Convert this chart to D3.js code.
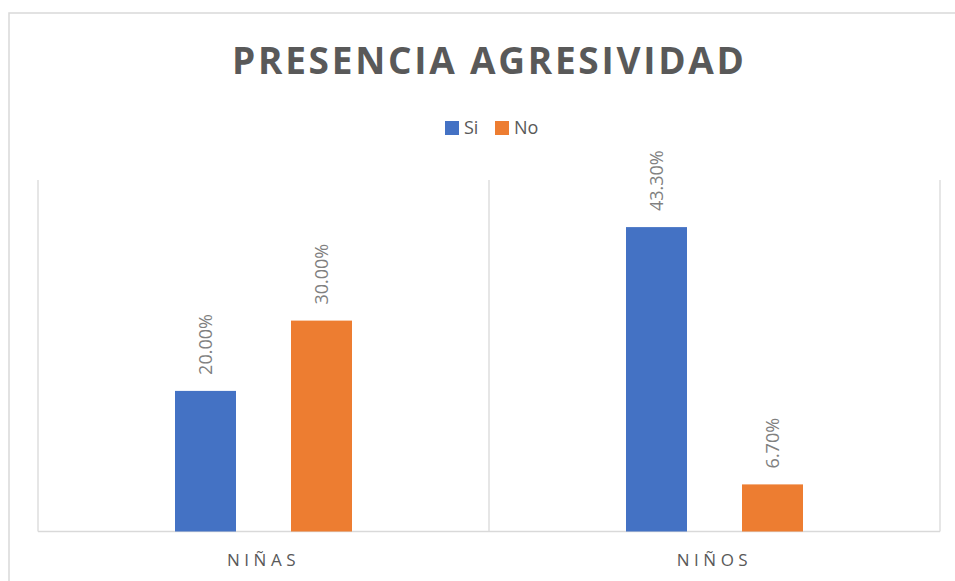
<!DOCTYPE html>
<html>
<head>
  <meta charset="utf-8">
  <title>Presencia agresividad</title>
  <script src="https://cdn.jsdelivr.net/npm/d3@7"></script>
  <style>
    body { margin: 0; background: #fff; }
    text { font-family: "Open Sans", "Noto Sans", sans-serif; }
  </style>
</head>
<body>
  <div id="chart"></div>
  <script>
    // data
    const categories = ["NIÑAS", "NIÑOS"]
    const series = ["Si", "No"]
    const siValues = [0.20, 0.433]
    const noValues = [0.30, 0.067]
    const colors = ["#4472c4", "#ed7d31"]

    const width = 955
    const height = 581
    const plot = { left: 38, right: 940, top: 180, bottom: 531.5 }

    const rows = categories.map((c, i) => ({ cat: c, values: [siValues[i], noValues[i]] }))

    const svg = d3.select("#chart").append("svg")
      .attr("width", width)
      .attr("height", height)

    // outer chart border
    svg.append("rect")
      .attr("x", 9).attr("y", 13)
      .attr("width", 980).attr("height", 620)
      .attr("fill", "#fff")
      .attr("stroke", "#d9d9d9")
      .attr("stroke-width", 1.5)

    svg.append("text")
      .attr("x", 488).attr("y", 74)
      .attr("text-anchor", "middle")
      .attr("font-size", 37)
      .attr("font-weight", "bold")
      .attr("fill", "#595959")
      .attr("textLength", 512)
      .attr("lengthAdjust", "spacing")
      .text("PRESENCIA AGRESIVIDAD")

    // legend
    const legend = svg.append("g").attr("transform", "translate(445,121)")
    series.forEach((s, i) => {
      const g = legend.append("g").attr("transform", `translate(${i * 50},0)`)
      g.append("rect").attr("width", 14).attr("height", 14).attr("fill", colors[i])
      g.append("text").attr("x", 19).attr("y", 13)
        .attr("font-size", 18).attr("fill", "#595959").text(s)
    })

    const x0 = d3.scaleBand().domain(categories).range([plot.left, plot.right])
    const x1 = d3.scaleBand().domain(series)
      .range([137, 137 + 116 + 61])
      .paddingInner(55 / 116)
    const y = d3.scaleLinear().domain([0, 0.5]).range([plot.bottom, plot.top])

    const grid = svg.append("g").attr("stroke", "#d9d9d9").attr("stroke-width", 1.3)
    const dividers = [plot.left, ...categories.map(c => x0(c) + x0.bandwidth())]
    grid.selectAll("line.v").data(dividers).enter().append("line")
      .attr("x1", d => d).attr("x2", d => d)
      .attr("y1", plot.top).attr("y2", plot.bottom)
    grid.append("line")
      .attr("x1", plot.left).attr("x2", plot.right)
      .attr("y1", plot.bottom).attr("y2", plot.bottom)

    const groups = svg.selectAll("g.cat").data(rows).enter().append("g")
      .attr("class", "cat")
      .attr("transform", d => `translate(${x0(d.cat)},0)`)

    groups.selectAll("rect").data(d => d.values.map((v, i) => ({ s: series[i], v: v, i: i })))
      .enter().append("rect")
      .attr("x", d => x1(d.s))
      .attr("y", d => y(d.v))
      .attr("width", x1.bandwidth())
      .attr("height", d => plot.bottom - y(d.v))
      .attr("fill", d => colors[d.i])

    groups.selectAll("text.val").data(d => d.values.map((v, i) => ({ s: series[i], v: v })))
      .enter().append("text")
      .attr("class", "val")
      .attr("transform", d => `translate(${x1(d.s) + x1.bandwidth() / 2},${y(d.v) - 16}) rotate(-90)`)
      .attr("dy", "0.36em")
      .attr("font-size", 18)
      .attr("fill", "#808080")
      .text(d => d3.format(".2%")(d.v))

    groups.append("text")
      .attr("x", x0.bandwidth() / 2)
      .attr("y", 566)
      .attr("text-anchor", "middle")
      .attr("font-size", 17)
      .attr("letter-spacing", 4.5)
      .attr("fill", "#595959")
      .text(d => d.cat)
  </script>
</body>
</html>
